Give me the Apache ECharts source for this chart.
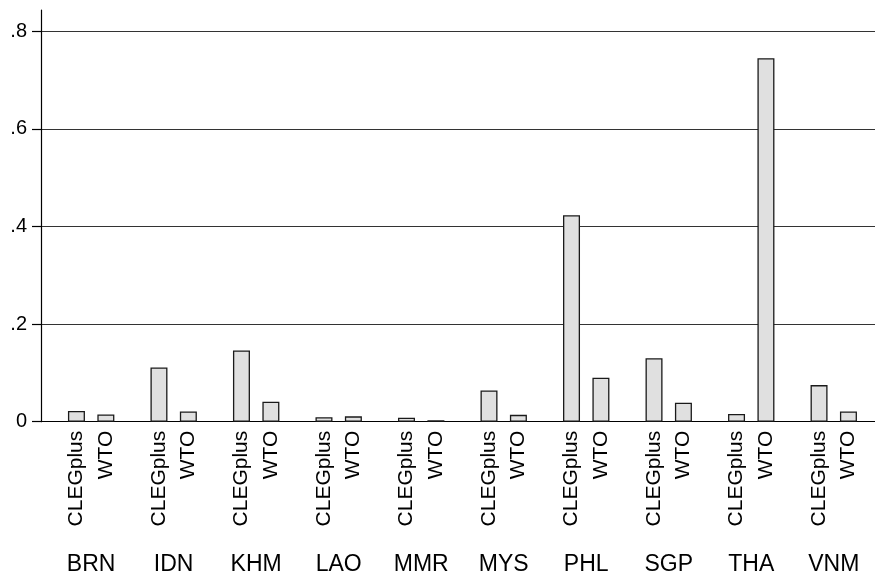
<!DOCTYPE html>
<html>
<head>
<meta charset="utf-8">
<title>CLEGplus vs WTO</title>
<script src="https://cdn.jsdelivr.net/npm/echarts@6/dist/echarts.min.js"></script>
<style>
  html, body { margin: 0; padding: 0; background: #fff; }
  #chart { width: 875px; height: 577px; }
</style>
</head>
<body>
<div id="chart"></div>
<script>
// data
var countries = ["BRN", "IDN", "KHM", "LAO", "MMR", "MYS", "PHL", "SGP", "THA", "VNM"];
var clegplus = [0.022, 0.111, 0.146, 0.009, 0.008, 0.064, 0.423, 0.130, 0.016, 0.075];
var wto = [0.015, 0.021, 0.041, 0.011, 0.003, 0.014, 0.090, 0.039, 0.745, 0.021];
var yTicks = [0, 0.2, 0.4, 0.6, 0.8];

var FONT = "Liberation Sans, Arial, sans-serif";
var yMax = 0.8437;

var chart = echarts.init(document.getElementById("chart"), null, { renderer: "canvas" });

function barLabel() {
  return {
    show: true,
    position: "bottom",
    distance: 9,
    rotate: 90,
    align: "right",
    verticalAlign: "middle",
    formatter: "{a}",
    color: "#000",
    fontFamily: FONT,
    fontSize: 21
  };
}

var option = {
  backgroundColor: "#fff",
  animation: false,
  grid: [
    // axis + gridlines
    { left: 41, right: 0, top: 10, bottom: 155.3 },
    // bars
    { left: 49.9, right: -2.9, top: 10, bottom: 155.3 }
  ],
  xAxis: [
    {
      gridIndex: 0, type: "category", data: countries,
      axisLine: { show: true, lineStyle: { color: "#000", width: 1.2 } },
      axisTick: { show: false }, axisLabel: { show: false }
    },
    {
      gridIndex: 1, type: "category", data: countries,
      axisLine: { show: false }, axisTick: { show: false },
      axisLabel: {
        margin: 131, color: "#000", fontFamily: FONT, fontSize: 23,
        verticalAlign: "top"
      }
    }
  ],
  yAxis: [
    {
      gridIndex: 0, type: "value", min: 0, max: yMax, interval: 0.2,
      axisLine: { show: true, lineStyle: { color: "#000", width: 1.2 } },
      axisTick: { show: true, length: 9, lineStyle: { color: "#000", width: 1.2 } },
      axisLabel: {
        margin: 14, color: "#000", fontFamily: FONT, fontSize: 20,
        padding: [5, 0, 0, 0],
        showMaxLabel: false,
        formatter: function (v) {
          var hit = yTicks.filter(function (t) { return Math.abs(t - v) < 1e-6; });
          if (!hit.length) return "";
          return v === 0 ? "0" : String(v).replace(/^0/, "");
        }
      },
      splitLine: {
        show: true, showMinLine: false, showMaxLine: false,
        lineStyle: { color: "#333", width: 1.2 }
      }
    },
    {
      gridIndex: 1, type: "value", min: 0, max: yMax, show: false
    }
  ],
  series: [
    {
      name: "CLEGplus", type: "bar", xAxisIndex: 1, yAxisIndex: 1,
      data: clegplus, barWidth: 17, barGap: "73%",
      itemStyle: { color: "#e0e0e0", borderColor: "#1a1a1a", borderWidth: 1.3 },
      label: barLabel()
    },
    {
      name: "WTO", type: "bar", xAxisIndex: 1, yAxisIndex: 1,
      data: wto, barWidth: 17, barGap: "73%",
      itemStyle: { color: "#e0e0e0", borderColor: "#1a1a1a", borderWidth: 1.3 },
      label: barLabel()
    }
  ]
};

chart.setOption(option);
</script>
</body>
</html>
